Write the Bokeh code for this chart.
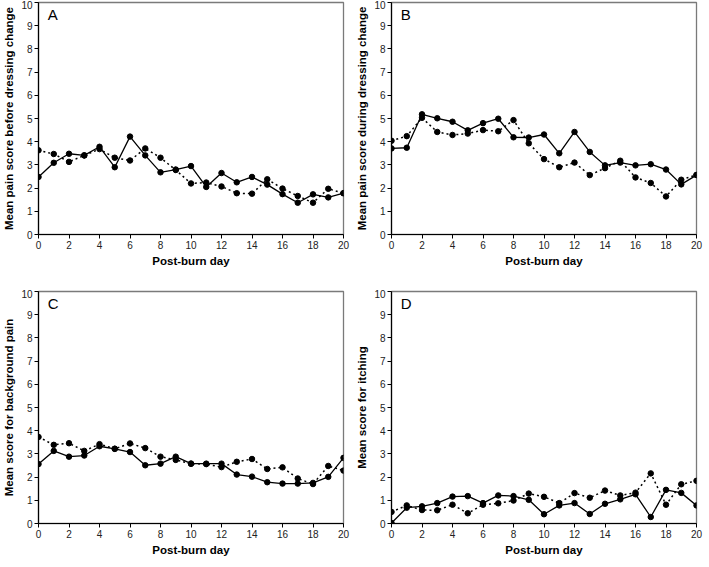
from bokeh.plotting import figure
from bokeh.layouts import gridplot
from bokeh.models import Range1d, Label, FixedTicker
from bokeh.embed import file_html
from bokeh.resources import INLINE

days = list(range(21))
x_ticks = [0, 2, 4, 6, 8, 10, 12, 14, 16, 18, 20]
y_ticks = [0, 1, 2, 3, 4, 5, 6, 7, 8, 9, 10]

a_solid = [2.48, 3.09, 3.48, 3.41, 3.78, 2.90, 4.22, 3.41, 2.68, 2.80, 2.95,
           2.05, 2.65, 2.25, 2.48, 2.15, 1.74, 1.37, 1.73, 1.60, 1.78]
a_dotted = [3.63, 3.47, 3.13, 3.41, 3.68, 3.31, 3.19, 3.71, 3.31, 2.78, 2.20,
            2.24, 2.07, 1.78, 1.76, 2.38, 1.98, 1.66, 1.37, 1.97, 1.78]

b_solid = [3.71, 3.74, 5.18, 5.01, 4.86, 4.49, 4.80, 4.99, 4.19, 4.18, 4.31,
           3.50, 4.42, 3.56, 2.98, 3.10, 2.98, 3.03, 2.80, 2.16, 2.56]
b_dotted = [4.04, 4.24, 5.03, 4.42, 4.29, 4.35, 4.50, 4.45, 4.93, 3.93, 3.25,
            2.90, 3.10, 2.56, 2.86, 3.18, 2.46, 2.22, 1.64, 2.36, 2.57]

c_solid = [2.56, 3.13, 2.88, 2.93, 3.33, 3.22, 3.08, 2.51, 2.58, 2.88, 2.58,
           2.58, 2.58, 2.11, 2.02, 1.78, 1.72, 1.72, 1.75, 2.01, 2.83]
c_dotted = [3.73, 3.39, 3.46, 3.13, 3.42, 3.22, 3.45, 3.25, 2.88, 2.74, 2.58,
            2.56, 2.43, 2.66, 2.78, 2.35, 2.42, 1.94, 1.70, 2.48, 2.28]

d_solid = [0.02, 0.68, 0.74, 0.88, 1.16, 1.18, 0.88, 1.21, 1.18, 1.02, 0.40,
           0.78, 0.88, 0.41, 0.85, 1.04, 1.26, 0.28, 1.45, 1.32, 0.78]
d_dotted = [0.50, 0.78, 0.58, 0.57, 0.81, 0.44, 0.81, 0.87, 0.99, 1.29, 1.15,
            0.88, 1.31, 1.11, 1.42, 1.21, 1.33, 2.16, 0.81, 1.69, 1.84]

panel_letters = ["A", "B", "C", "D"]
y_titles = ["Mean pain score before dressing change",
            "Mean pain score during dressing change",
            "Mean score for background pain",
            "Mean score for itching"]
x_title = "Post-burn day"

FONT = "Liberation Sans"


def make_panel(letter, ytitle, solid, dotted, top):
    p = figure(width=346, height=289 if top else 264,
               x_range=Range1d(0, 20), y_range=Range1d(0, 10),
               output_backend="svg", toolbar_location=None,
               min_border_left=31, min_border_right=10,
               min_border_top=2, min_border_bottom=55 if top else 30)
    p.frame_width = 305
    p.frame_height = 232
    p.xgrid.visible = False
    p.ygrid.visible = False
    p.outline_line_color = "#7a7a7a"
    p.outline_line_width = 1.3
    p.background_fill_color = "white"
    p.border_fill_color = "white"

    p.xaxis.ticker = FixedTicker(ticks=x_ticks)
    p.yaxis.ticker = FixedTicker(ticks=y_ticks)
    p.xaxis.axis_label = x_title
    p.yaxis.axis_label = ytitle
    for ax in (p.xaxis, p.yaxis):
        ax.axis_line_color = "black"
        ax.axis_line_width = 1.2
        ax.major_tick_in = 0
        ax.major_tick_out = 4
        ax.major_tick_line_color = "black"
        ax.minor_tick_line_color = None
        ax.major_label_text_font = FONT
        ax.major_label_text_font_size = "10px"
        ax.major_label_text_color = "#222222"
        ax.major_label_standoff = 2
        ax.axis_label_text_font = FONT
        ax.axis_label_text_font_style = "bold"
        ax.axis_label_text_font_size = "11.5px"
        ax.axis_label_text_color = "black"
        ax.axis_label_standoff = 3

    p.line(days, dotted, line_color="black", line_width=1.5, line_dash="2 3")
    p.scatter(days, dotted, size=5.5, marker="circle",
              fill_color="black", line_color="black")
    p.line(days, solid, line_color="black", line_width=1.3)
    p.scatter(days, solid, size=5.5, marker="circle",
              fill_color="black", line_color="black")

    p.add_layout(Label(x=0.6, y=9.85, text=letter, text_font=FONT,
                       text_font_size="15px", text_color="black",
                       text_baseline="top", text_align="left"))
    return p


pa = make_panel(panel_letters[0], y_titles[0], a_solid, a_dotted, True)
pb = make_panel(panel_letters[1], y_titles[1], b_solid, b_dotted, True)
pc = make_panel(panel_letters[2], y_titles[2], c_solid, c_dotted, False)
pd_ = make_panel(panel_letters[3], y_titles[3], d_solid, d_dotted, False)

grid = gridplot([[pa, pb], [pc, pd_]], toolbar_location=None)

with open("out.html", "w") as f:
    f.write(file_html(grid, INLINE))
